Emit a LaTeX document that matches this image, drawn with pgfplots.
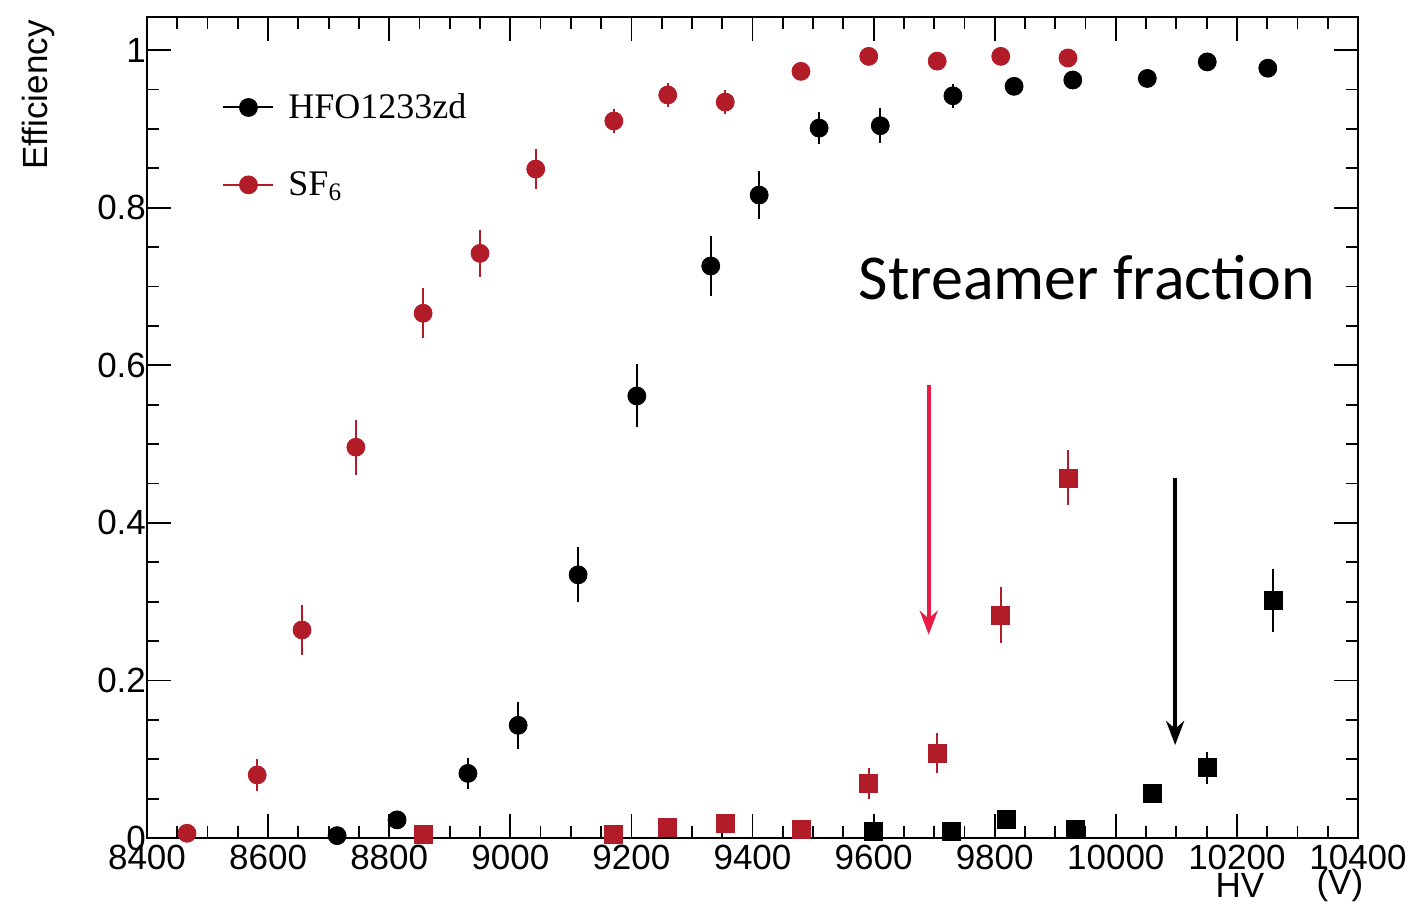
\documentclass[border=0pt]{standalone}
\usepackage{fontspec}
\setmainfont{Liberation Sans}
\newfontfamily\timesfont{Liberation Serif}
\newfontfamily\calibrifont{Carlito}
\usepackage{pgfplots}
\pgfplotsset{compat=1.18}
\usepackage{pgfplotstable}
\usetikzlibrary{arrows.meta}

\definecolor{sfred}{RGB}{178,28,40}
\definecolor{arrowred}{RGB}{232,28,70}

% efficiency, HFO1233zd
\pgfplotstableread{
x      y      e
8714   0.003  0.005
8813   0.023  0.008
8930   0.082  0.020
9013   0.143  0.030
9112   0.334  0.035
9209   0.561  0.040
9331   0.726  0.038
9411   0.816  0.030
9510   0.901  0.020
9611   0.904  0.022
9731   0.942  0.015
9832   0.954  0.010
9929   0.962  0.010
10052  0.964  0.008
10151  0.985  0.008
10251  0.977  0.008
}\effhfo

% efficiency, SF6
\pgfplotstableread{
x      y      e
8466   0.006  0.005
8582   0.080  0.020
8656   0.264  0.032
8745   0.496  0.035
8856   0.666  0.032
8950   0.742  0.030
9042   0.849  0.025
9171   0.910  0.015
9260   0.943  0.015
9355   0.934  0.015
9480   0.973  0.010
9592   0.992  0.008
9705   0.986  0.008
9810   0.992  0.008
9921   0.990  0.008
}\effsf

% streamer fraction, SF6
\pgfplotstableread{
x      y      e
8856   0.004  0.004
9171   0.004  0.004
9260   0.014  0.006
9355   0.019  0.008
9480   0.011  0.006
9592   0.069  0.020
9705   0.108  0.025
9810   0.283  0.035
9921   0.457  0.035
}\strsf

% streamer fraction, HFO1233zd
\pgfplotstableread{
x      y      e
9599   0.008  0.005
9729   0.008  0.005
9820   0.023  0.008
9933   0.011  0.006
10061  0.056  0.010
10151  0.089  0.020
10260  0.302  0.040
}\strhfo

\begin{document}
\begin{tikzpicture}
\begin{axis}[
  scale only axis,
  width=605.5pt, height=410.5pt,
  xmin=8400, xmax=10400,
  ymin=0, ymax=1.042,
  clip=false,
  axis line style={line width=1pt},
  xtick={8400,8600,...,10400},
  ytick={0,0.2,0.4,0.6,0.8,1},
  yticklabels={0,0.2,0.4,0.6,0.8,1},
  minor x tick num=3,
  minor y tick num=3,
  major tick length=12pt,
  minor tick length=6pt,
  every tick/.style={black, line width=0.9pt},
  tick align=inside,
  scaled ticks=false,
  /pgf/number format/1000 sep={},
  /pgf/number format/assume math mode=true,
  tick label style={font=\fontsize{17.5}{20}\selectfont},
  yticklabel style={xshift=3pt},
  legend style={draw=none, fill=none, at={(axis description cs:0.062,0.843)},
    anchor=west, font=\timesfont\fontsize{18}{20}\selectfont,
    row sep=21pt, inner sep=0pt},
  legend cell align=left,
  legend image code/.code={
    \draw[#1, line width=1pt] (0pt,0pt) -- (25pt,0pt);
    \draw[#1] plot coordinates {(12.5pt,0pt)};
  },
  error bars/error bar style={line width=0.9pt},
  error bars/error mark=none,
]

\addplot[black, only marks, mark=*, mark size=4.5pt,
  error bars/.cd, y dir=both, y explicit,
  error bar style={black}]
  table[x=x, y=y, y error=e] {\effhfo};
\addlegendentry{\hspace{5pt}HFO1233zd}

\addplot[sfred, only marks, mark=*, mark size=4.5pt,
  error bars/.cd, y dir=both, y explicit,
  error bar style={sfred}]
  table[x=x, y=y, y error=e] {\effsf};
\addlegendentry{\hspace{5pt}SF\textsubscript{6}}

\addplot[sfred, only marks, mark=square*, mark size=4.5pt, forget plot,
  error bars/.cd, y dir=both, y explicit,
  error bar style={sfred}]
  table[x=x, y=y, y error=e] {\strsf};

\addplot[black, only marks, mark=square*, mark size=4.5pt, forget plot,
  error bars/.cd, y dir=both, y explicit,
  error bar style={black}]
  table[x=x, y=y, y error=e] {\strhfo};

% annotation arrows marking the streamer onset
\draw[arrowred, line width=2pt, -{Stealth[length=12pt,width=9pt]}]
  (axis cs:9691,0.575) -- (axis cs:9691,0.258);
\draw[black, line width=2pt, -{Stealth[length=12pt,width=9pt]}]
  (axis cs:10098,0.457) -- (axis cs:10098,0.118);

\node[anchor=base, font=\calibrifont\fontsize{32}{36}\selectfont]
  at (axis cs:9952,0.683) {Streamer fraction};

% axis titles
\node[font=\fontsize{17.5}{20}\selectfont] at (axis cs:10205,0) [yshift=-23.5pt] {HV};
\node[font=\fontsize{17.5}{20}\selectfont] at (axis cs:10370,0) [yshift=-23.5pt] {(V)};
\node[xshift=-62.5pt, yshift=-1.5pt, rotate=90, anchor=north east, inner sep=0pt,
  font=\fontsize{17.5}{20}\selectfont]
  at (rel axis cs:0,1) {Efficiency};
\end{axis}
\pgfresetboundingbox
\path[use as bounding box] (current axis.south west) ++(-73.5pt,-38pt)
  rectangle ([xshift=27pt, yshift=8.5pt]current axis.north east);
\end{tikzpicture}
\end{document}
